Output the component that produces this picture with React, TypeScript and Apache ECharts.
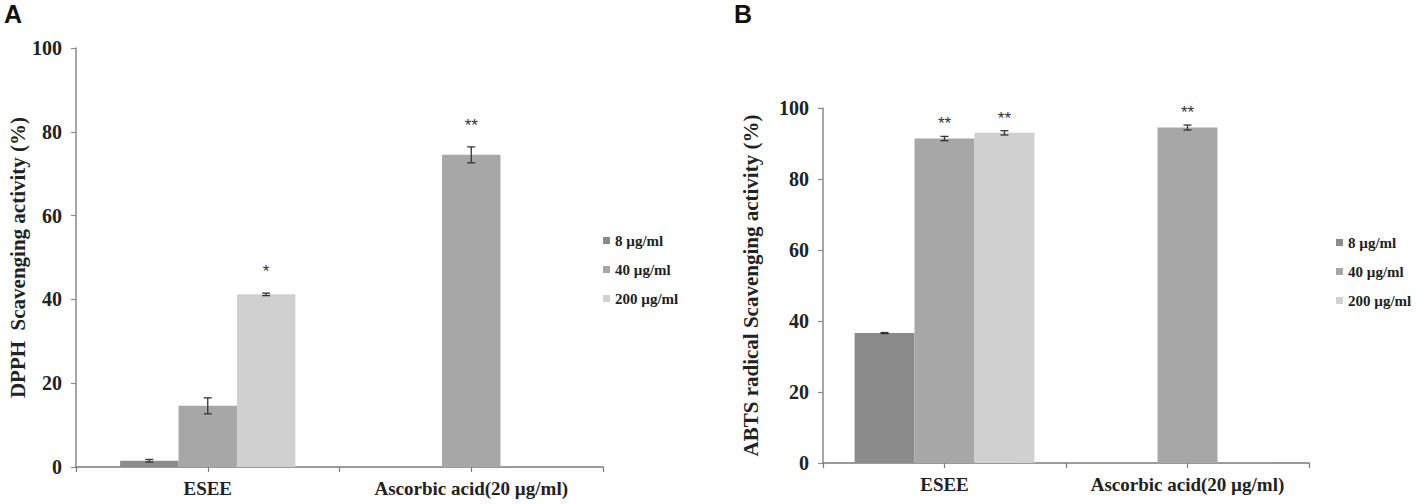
import React, { useEffect, useRef } from "react";
import * as echarts from "echarts";

// ---------- data ----------
const categories = ["ESEE", "Ascorbic acid(20 µg/ml)"];
const doseLabels = ["8 µg/ml", "40 µg/ml", "200 µg/ml"];
const yMin = 0;
const yMax = 100;
const yStep = 20;

// Panel A: DPPH scavenging activity (%)
const dpph8 = [1.5, null];
const dpph40 = [14.6, 74.5];
const dpph200 = [41.2, null];
const dpph8Err = [0.3, null];
const dpph40Err = [1.9, 1.9];
const dpph200Err = [0.3, null];
const dpph8Sig = ["", ""];
const dpph40Sig = ["", "**"];
const dpph200Sig = ["*", ""];

// Panel B: ABTS radical scavenging activity (%)
const abts8 = [36.6, null];
const abts40 = [91.4, 94.5];
const abts200 = [93.0, null];
const abts8Err = [0.15, null];
const abts40Err = [0.6, 0.7];
const abts200Err = [0.6, null];
const abts8Sig = ["", ""];
const abts40Sig = ["**", "**"];
const abts200Sig = ["**", ""];

const colors = ["#8b8b8b", "#a7a7a7", "#d0d0d0"];
const SERIF = "'Liberation Serif', 'Times New Roman', serif";
const SANS = "'Liberation Sans', Arial, sans-serif";

type Panel = {
  means: (number | null)[][];
  errs: (number | null)[][];
  sigs: string[][];
  gap: number;
  starOffset: number;
};

const panels: Panel[] = [
  {
    means: [dpph8, dpph40, dpph200],
    errs: [dpph8Err, dpph40Err, dpph200Err],
    sigs: [dpph8Sig, dpph40Sig, dpph200Sig],
    gap: 0.335,
    starOffset: 13,
  },
  {
    means: [abts8, abts40, abts200],
    errs: [abts8Err, abts40Err, abts200Err],
    sigs: [abts8Sig, abts40Sig, abts200Sig],
    gap: 0.26,
    starOffset: 4,
  },
];

export default function App() {
  const ref = useRef<HTMLDivElement>(null);

  useEffect(() => {
    if (!ref.current) return;
    const chart = echarts.init(ref.current, undefined, { renderer: "svg" });

    const grids = [
      { left: 76, top: 48, width: 527, height: 419 },
      { left: 823, top: 108, width: 486, height: 355 },
    ];

    const xAxes: any[] = [];
    const yAxes: any[] = [];
    const series: any[] = [];
    const yNames = ["DPPH  Scavenging activity (%)", "ABTS radical Scavenging activity (%)"];
    const nameGaps = [48, 62];

    panels.forEach((p, gi) => {
      xAxes.push({
        type: "category",
        gridIndex: gi,
        data: categories,
        position: "bottom",
        axisLine: { lineStyle: { color: "#7a7a7a", width: 1.5 } },
        axisTick: { show: true, length: 5, lineStyle: { color: "#7a7a7a", width: 1.2 } },
        axisLabel: {
          interval: 0,
          hideOverlap: false,
          margin: 12,
          fontFamily: SERIF,
          fontWeight: "bold",
          fontSize: 19,
          color: "#222",
        },
      });
      xAxes.push({
        type: "category",
        gridIndex: gi,
        data: categories,
        position: "bottom",
        axisLine: { show: false },
        axisTick: { show: true, interval: 0, alignWithLabel: true, length: 5, lineStyle: { color: "#7a7a7a", width: 1.2 } },
        axisLabel: { show: false, interval: 0 },
      });
      yAxes.push({
        type: "value",
        gridIndex: gi,
        min: yMin,
        max: yMax,
        interval: yStep,
        splitLine: { show: false },
        axisLine: { show: true, lineStyle: { color: "#8a8a8a", width: 1.5 } },
        axisTick: { show: true, length: 5, lineStyle: { color: "#8a8a8a", width: 1.2 } },
        axisLabel: {
          margin: 14,
          fontFamily: SERIF,
          fontWeight: "bold",
          fontSize: 20,
          color: "#222",
        },
        name: yNames[gi],
        nameLocation: "middle",
        nameRotate: 90,
        nameGap: nameGaps[gi],
        nameTextStyle: {
          fontFamily: SERIF,
          fontWeight: "bold",
          fontSize: 21,
          color: "#222",
        },
      });

      p.means.forEach((vals, si) => {
        series.push({
          type: "bar",
          name: doseLabels[si],
          xAxisIndex: gi * 2,
          yAxisIndex: gi,
          data: vals.map((v) => (v == null ? "-" : v)),
          barGap: "0%",
          barCategoryGap: Math.round(p.gap * 1000) / 10 + "%",
          itemStyle: { color: colors[si] },
          silent: true,
        });
      });

      p.means.forEach((vals, si) => {
        const data: any[] = [];
        vals.forEach((v, ci) => {
          if (v != null) data.push([ci, v, p.errs[si][ci] ?? 0, p.sigs[si][ci]]);
        });
        series.push({
          type: "custom",
          name: "err-" + gi + "-" + si,
          xAxisIndex: gi * 2,
          yAxisIndex: gi,
          data,
          silent: true,
          z: 10,
          encode: { x: 0, y: 1 },
          renderItem: (params: any, api: any) => {
            const ci = api.value(0);
            const mean = api.value(1);
            const err = api.value(2);
            const sig = data[params.dataIndex][3];
            const band = api.size([1, 0])[0];
            const barW = (band * (1 - p.gap)) / 3;
            const c = api.coord([ci, mean]);
            const x = c[0] + (si - 1) * barW;
            const yTop = api.coord([ci, mean + err])[1];
            const yBot = api.coord([ci, mean - err])[1];
            const cap = 4;
            const ls = { stroke: "#333", lineWidth: 1.3 };
            const children: any[] = [
              { type: "line", shape: { x1: x, y1: yTop, x2: x, y2: yBot }, style: ls },
              { type: "line", shape: { x1: x - cap, y1: yTop, x2: x + cap, y2: yTop }, style: ls },
              { type: "line", shape: { x1: x - cap, y1: yBot, x2: x + cap, y2: yBot }, style: ls },
            ];
            if (sig) {
              children.push({
                type: "text",
                style: {
                  text: sig,
                  x,
                  y: yTop - p.starOffset,
                  align: "center",
                  verticalAlign: "bottom",
                  fontFamily: SANS,
                  fontSize: 17,
                  fill: "#333",
                },
              });
            }
            return { type: "group", children };
          },
        });
      });
    });

    const legendCommon = {
      orient: "vertical",
      data: doseLabels,
      icon: "rect",
      itemWidth: 7,
      itemHeight: 7,
      itemGap: 14,
      selectedMode: false,
      textStyle: { fontFamily: SERIF, fontWeight: "bold", fontSize: 15, color: "#222", padding: [0, 0, 0, 0] },
      padding: 0,
    };

    chart.setOption({
      animation: false,
      backgroundColor: "#ffffff",
      grid: grids,
      xAxis: xAxes,
      yAxis: yAxes,
      legend: [
        { ...legendCommon, left: 603, top: 233 },
        { ...legendCommon, left: 1336, top: 235 },
      ],
      graphic: [
        { type: "text", left: 4, top: 1, style: { text: "A", fontFamily: SANS, fontWeight: "bold", fontSize: 25, fill: "#111" } },
        { type: "text", left: 734, top: 1, style: { text: "B", fontFamily: SANS, fontWeight: "bold", fontSize: 25, fill: "#111" } },
      ],
      series,
    });

    return () => chart.dispose();
  }, []);

  return (
    <div
      ref={ref}
      style={{ position: "absolute", left: 0, top: 0, width: 1418, height: 504, background: "#fff" }}
    />
  );
}
